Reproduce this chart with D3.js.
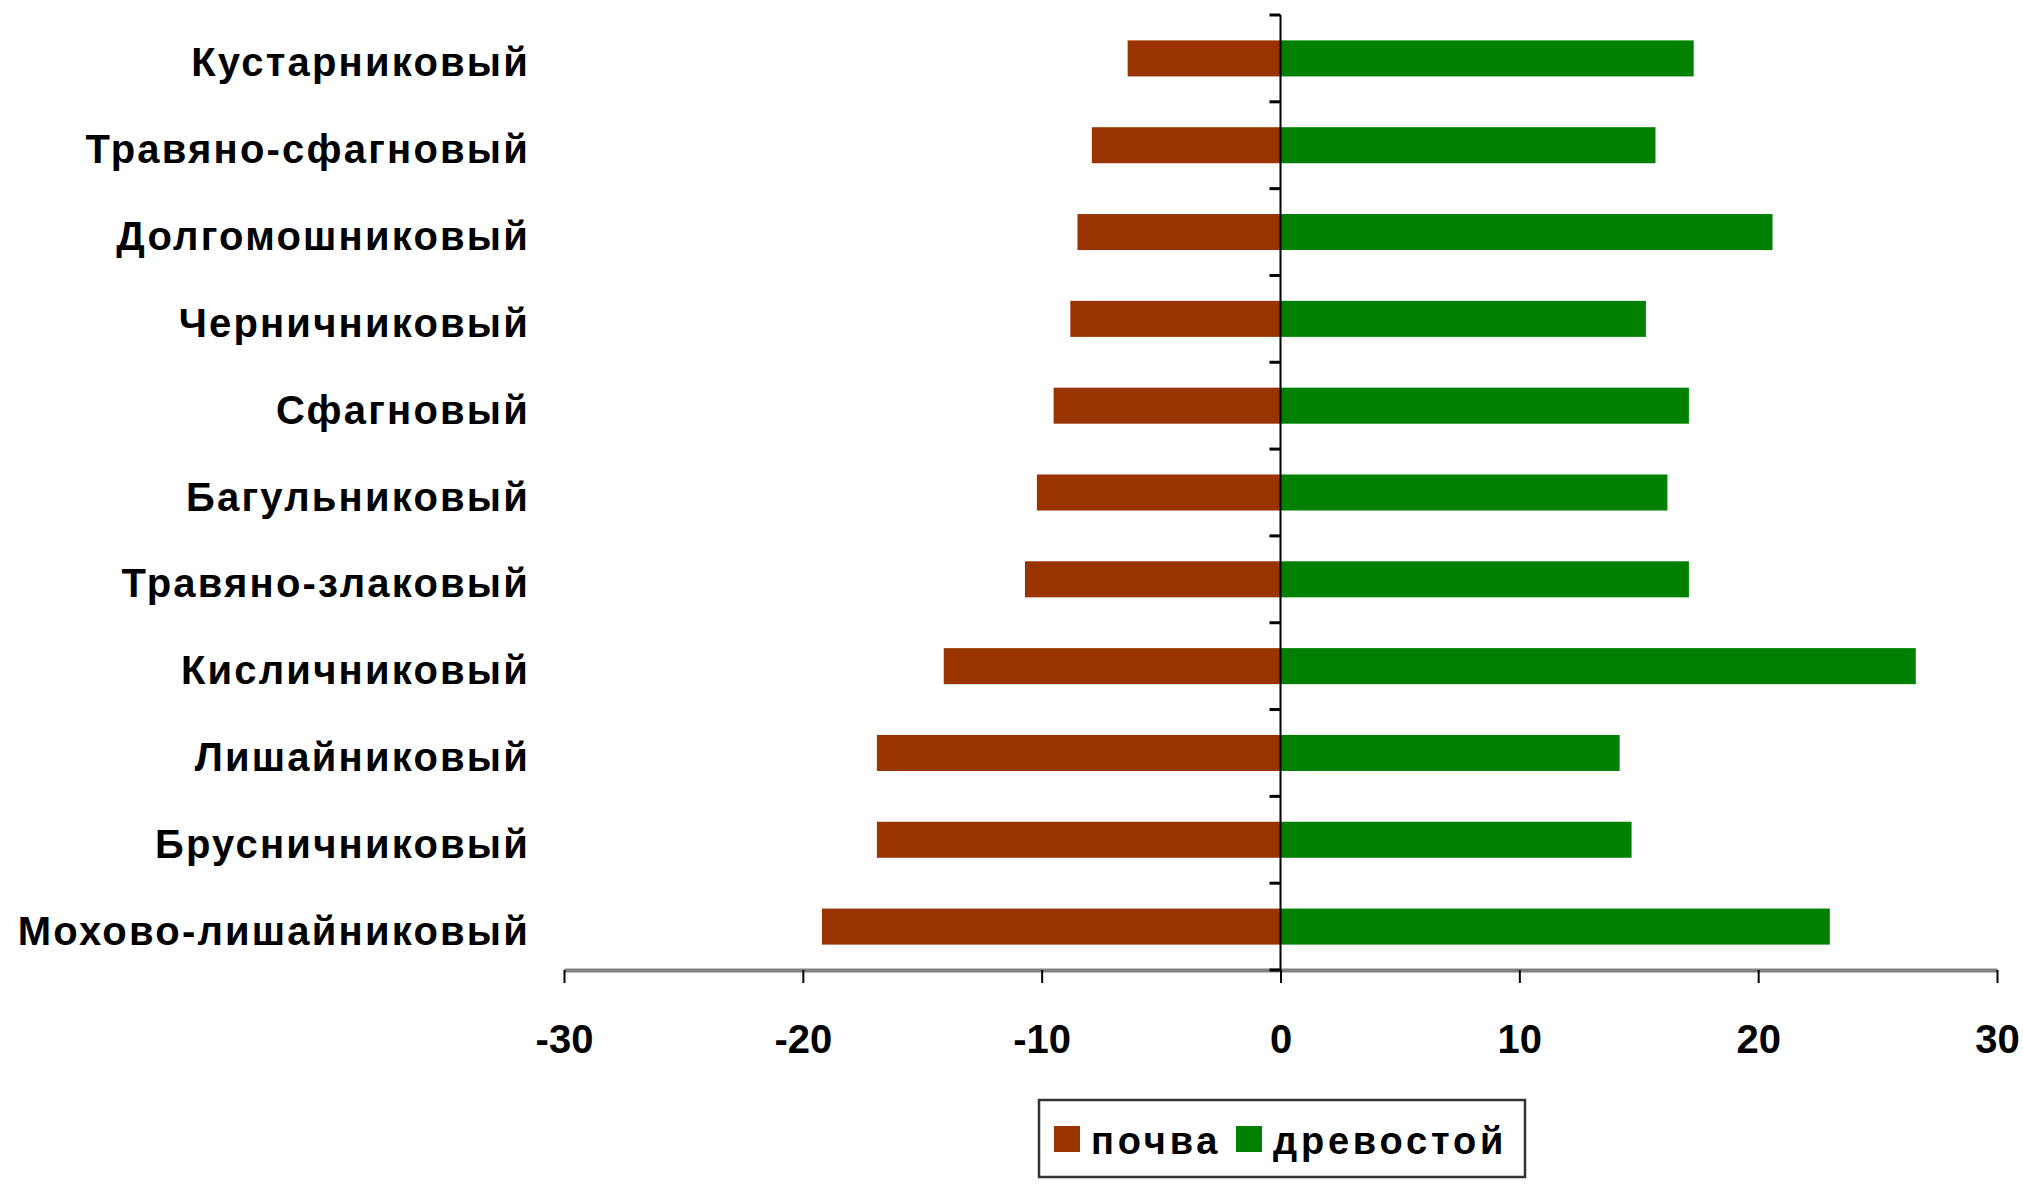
<!DOCTYPE html>
<html>
<head>
<meta charset="utf-8">
<script src="https://cdn.jsdelivr.net/npm/d3@7"></script>
<style>
body { margin: 0; background: #ffffff; }
svg { display: block; }
</style>
</head>
<body>
<script>
var categories = ['Кустарниковый', 'Травяно-сфагновый', 'Долгомошниковый', 'Черничниковый',
	'Сфагновый', 'Багульниковый', 'Травяно-злаковый', 'Кисличниковый',
	'Лишайниковый', 'Брусничниковый', 'Мохово-лишайниковый'];
var pochva = [-6.4, -7.9, -8.5, -8.8, -9.5, -10.2, -10.7, -14.1, -16.9, -16.9, -19.2];
var drevostoy = [17.3, 15.7, 20.6, 15.3, 17.1, 16.2, 17.1, 26.6, 14.2, 14.7, 23.0];
var xTicks = [-30, -20, -10, 0, 10, 20, 30];
var seriesNames = ['почва', 'древостой'];
var seriesColors = ['#993300', '#008000'];

var W = 2023, H = 1184;
var svgSelect = d3.select('body').append('svg')
	.attr('width', W)
	.attr('height', H);

/*
/	SCALES
*/
var x = d3.scaleLinear().domain([-30, 30]).range([564, 1997]);
var y = d3.scaleBand().domain(categories).range([15, 970])
	.paddingInner(0.585).paddingOuter(0.2925);

var rows = categories.map(function(c, i){
	return {cat: c, vals: [pochva[i], drevostoy[i]]};
});

/*
/	BARS
*/
var barGroup = svgSelect.append('g');
seriesNames.forEach(function(name, s){
	barGroup.selectAll('rect.s' + s).data(rows).enter()
		.append('rect')
		.attr('class', 's' + s)
		.attr('x', function(d){ return x(Math.min(0, d.vals[s])); })
		.attr('y', function(d){ return y(d.cat); })
		.attr('width', function(d){ return Math.abs(x(d.vals[s]) - x(0)); })
		.attr('height', y.bandwidth())
		.style('fill', seriesColors[s]);
});

/*
/	X AXIS
*/
var xAxis = svgSelect.append('g')
	.attr('transform', 'translate(0,970)')
	.call(d3.axisBottom(x).tickValues(xTicks).tickFormat(String)
		.tickSize(13).tickPadding(42).tickSizeOuter(0));
xAxis.select('.domain').attr('stroke', '#808080').attr('stroke-width', 4);
xAxis.selectAll('.tick line').attr('stroke', '#000').attr('stroke-width', 2);
xAxis.selectAll('.tick text')
	.attr('font-family', 'Liberation Sans, Arial, sans-serif')
	.attr('font-size', '40px')
	.attr('font-weight', '700')
	.attr('fill', '#000');

/*
/	Y AXIS (at zero, ticks between categories)
*/
var yStep = y.step();
var y0 = y.range()[0];
var yAxis = svgSelect.append('g');
yAxis.append('line')
	.attr('x1', x(0)).attr('x2', x(0))
	.attr('y1', y0).attr('y2', 970)
	.attr('stroke', '#000').attr('stroke-width', 2);
yAxis.selectAll('line.tk').data(d3.range(categories.length + 1)).enter()
	.append('line')
	.attr('class', 'tk')
	.attr('x1', x(0) - 11).attr('x2', x(0))
	.attr('y1', function(i){ return y0 + i * yStep; })
	.attr('y2', function(i){ return y0 + i * yStep; })
	.attr('stroke', '#000').attr('stroke-width', 3);

/*
/	CATEGORY LABELS
*/
svgSelect.append('g').selectAll('text').data(categories).enter()
	.append('text')
	.attr('x', 530)
	.attr('y', function(d){ return y(d) + y.bandwidth() / 2; })
	.attr('dy', '0.45em')
	.attr('text-anchor', 'end')
	.attr('font-family', 'Liberation Sans, Arial, sans-serif')
	.attr('font-size', '40px')
	.attr('font-weight', '700')
	.style('letter-spacing', '2.2px')
	.attr('fill', '#000')
	.text(function(d){ return d; });

/*
/	LEGEND
*/
var legend = svgSelect.append('g');
legend.append('rect')
	.attr('x', 1039).attr('y', 1100)
	.attr('width', 486).attr('height', 77)
	.style('fill', '#fff')
	.attr('stroke', '#333').attr('stroke-width', 2.5);
var legX = [1054, 1236];
seriesNames.forEach(function(name, s){
	legend.append('rect')
		.attr('x', legX[s]).attr('y', 1126)
		.attr('width', 26).attr('height', 26)
		.style('fill', seriesColors[s]);
	legend.append('text')
		.attr('x', legX[s] + 37).attr('y', 1154)
		.attr('font-family', 'Liberation Sans, Arial, sans-serif')
		.attr('font-size', '38px')
		.attr('font-weight', '700')
		.style('letter-spacing', '3.8px')
		.attr('fill', '#000')
		.text(name);
});
</script>
</body>
</html>
